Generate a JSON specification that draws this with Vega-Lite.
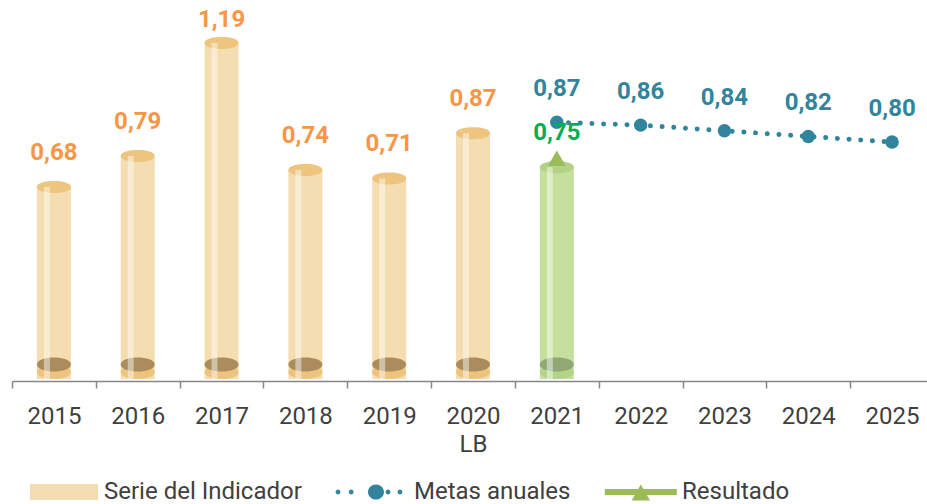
{
  "$schema": "https://vega.github.io/schema/vega-lite/v6.json",
  "autosize": {"type": "none"},
  "padding": {"left": 12, "top": 0, "right": 0, "bottom": 125},
  "width": 915,
  "height": 379,
  "config": {
    "view": {"stroke": null},
    "locale": {"number": {"decimal": ",", "thousands": ".", "grouping": [3], "currency": ["", " €"]}},
    "axis": {"grid": false}
  },
  "datasets": {
    "barras": [
      {"year": "2015", "value": 0.68, "serie": "Serie del Indicador"},
      {"year": "2016", "value": 0.79, "serie": "Serie del Indicador"},
      {"year": "2017", "value": 1.19, "serie": "Serie del Indicador"},
      {"year": "2018", "value": 0.74, "serie": "Serie del Indicador"},
      {"year": "2019", "value": 0.71, "serie": "Serie del Indicador"},
      {"year": "2020", "value": 0.87, "serie": "Serie del Indicador"},
      {"year": "2021", "value": 0.75, "serie": "Resultado"}
    ],
    "metas": [
      {"year": "2021", "value": 0.87, "serie": "Metas anuales"},
      {"year": "2022", "value": 0.86, "serie": "Metas anuales"},
      {"year": "2023", "value": 0.84, "serie": "Metas anuales"},
      {"year": "2024", "value": 0.82, "serie": "Metas anuales"},
      {"year": "2025", "value": 0.80, "serie": "Metas anuales"}
    ],
    "resultado": [
      {"year": "2021", "value": 0.75, "serie": "Resultado"}
    ]
  },
  "encoding": {
    "x": {
      "field": "year",
      "type": "nominal",
      "sort": null,
      "scale": {
        "domain": ["2015", "2016", "2017", "2018", "2019", "2020", "2021", "2022", "2023", "2024", "2025"],
        "paddingInner": 0,
        "paddingOuter": 0,
        "range": [0, 922]
      },
      "axis": {
        "title": null,
        "labelAngle": 0,
        "tickBand": "extent",
        "offset": 2,
        "domainColor": "#868686",
        "domainWidth": 1.5,
        "tickColor": "#868686",
        "tickWidth": 1.5,
        "tickSize": 7,
        "labelFont": "Roboto",
        "labelFontSize": 24,
        "labelColor": "#404040",
        "labelBaseline": "alphabetic",
        "labelPadding": 35,
        "labelLineHeight": 28,
        "labelOverlap": false,
        "labelFlush": false,
        "labelExpr": "datum.value == '2020' ? ['2020', 'LB'] : datum.label"
      }
    },
    "y": {
      "field": "value",
      "type": "quantitative",
      "scale": {"domain": [0, 1.342], "nice": false, "zero": true},
      "axis": null
    }
  },
  "layer": [
    {
      "data": {"name": "barras"},
      "mark": {"type": "bar", "width": 34, "y2Offset": -7},
      "encoding": {
        "color": {"condition": {"test": "datum.serie === 'Resultado'", "value": "#C5E09C"}, "value": "#F4DDB0"}
      }
    },
    {
      "data": {"name": "barras"},
      "mark": {"type": "point", "shape": "M-1,0C-1,-0.55,1,-0.55,1,0C1,0.55,-1,0.55,-1,0Z", "size": 1156, "filled": true, "opacity": 1, "strokeWidth": 0, "yOffset": -7},
      "encoding": {
        "y": {"datum": 0, "type": "quantitative"},
        "color": {"condition": {"test": "datum.serie === 'Resultado'", "value": "#B3D38A"}, "value": "#EDC47D"}
      }
    },
    {
      "data": {"name": "barras"},
      "mark": {"type": "point", "shape": "M-1,0C-1,-0.55,1,-0.55,1,0C1,0.55,-1,0.55,-1,0Z", "size": 1156, "filled": true, "opacity": 1, "strokeWidth": 0, "yOffset": -14.5},
      "encoding": {
        "y": {"datum": 0, "type": "quantitative"},
        "color": {"condition": {"test": "datum.serie === 'Resultado'", "value": "#90A874"}, "value": "#AA8C5D"}
      }
    },
    {
      "data": {"name": "barras"},
      "mark": {"type": "point", "shape": "M-1,0C-1,-0.47,1,-0.47,1,0C1,0.47,-1,0.47,-1,0Z", "size": 1156, "filled": true, "opacity": 1, "strokeWidth": 0},
      "encoding": {
        "color": {"condition": {"test": "datum.serie === 'Resultado'", "value": "#B2D287"}, "value": "#EDC57F"}
      }
    },
    {
      "data": {"name": "barras"},
      "mark": {"type": "bar", "width": 6, "xOffset": -7, "y2Offset": -4, "color": "#FFFFFF", "opacity": 0.45}
    },
    {
      "data": {"name": "metas"},
      "mark": {"type": "line", "color": "#31849B", "strokeWidth": 5, "strokeDash": [0.01, 11.7], "strokeCap": "round", "yOffset": -11}
    },
    {
      "data": {"name": "metas"},
      "mark": {"type": "point", "shape": "circle", "size": 180, "filled": true, "opacity": 1, "strokeWidth": 0, "yOffset": -11, "color": "#31849B"}
    },
    {
      "data": {"name": "metas"},
      "mark": {"type": "point", "filled": true, "opacity": 0, "strokeWidth": 0},
      "encoding": {
        "color": {
          "field": "serie",
          "type": "nominal",
          "scale": {"domain": ["Serie del Indicador", "Metas anuales", "Resultado"], "range": ["#F4DDB0", "#31849B", "#9BBB59"]},
          "legend": {
            "title": null,
            "orient": "none",
            "legendX": 20,
            "legendY": 480,
            "direction": "horizontal",
            "padding": 0,
            "symbolSize": 256,
            "symbolOpacity": 1,
            "symbolOffset": 22,
            "symbolStrokeWidth": 0,
            "labelOffset": 26,
            "labelFont": "Roboto",
            "labelFontSize": 24,
            "labelColor": "#404040",
            "labelLimit": 400,
            "columnPadding": 33
          }
        },
        "shape": {
          "field": "serie",
          "type": "nominal",
          "scale": {
            "domain": ["Serie del Indicador", "Metas anuales", "Resultado"],
            "range": [
              "M-4.5,-1H4,V1H-4.5Z",
              "M-1,0A1,0.95,0,1,1,1,0A1,0.95,0,1,1,-1,0ZM-5.05,0A0.3,0.3,0,1,1,-4.45,0A0.3,0.3,0,1,1,-5.05,0ZM-3.4,0A0.3,0.3,0,1,1,-2.8,0A0.3,0.3,0,1,1,-3.4,0ZM1.2,0A0.3,0.3,0,1,1,1.8,0A0.3,0.3,0,1,1,1.2,0ZM2.7,0A0.3,0.3,0,1,1,3.3,0A0.3,0.3,0,1,1,2.7,0Z",
              "M-4.9,-0.37H4.1V0.37H-4.9ZM-1.55,1.05L-0.4,-0.95L0.75,1.05Z"
            ]
          },
          "legend": {
            "title": null,
            "orient": "none",
            "legendX": 20,
            "legendY": 480,
            "direction": "horizontal",
            "padding": 0,
            "symbolSize": 256,
            "symbolOpacity": 1,
            "symbolOffset": 22,
            "symbolStrokeWidth": 0,
            "labelOffset": 26,
            "labelFont": "Roboto",
            "labelFontSize": 24,
            "labelColor": "#404040",
            "labelLimit": 400,
            "columnPadding": 33
          }
        }
      }
    },
    {
      "data": {"name": "resultado"},
      "mark": {"type": "point", "shape": "triangle-up", "size": 324, "filled": true, "opacity": 1, "strokeWidth": 0, "color": "#9BBB59", "yOffset": -9}
    },
    {
      "data": {"name": "barras"},
      "mark": {"type": "text", "font": "Roboto", "fontSize": 24, "fontWeight": "bold", "baseline": "alphabetic", "align": "center", "dy": {"expr": "datum.value > 1 ? -16 : -27"}},
      "encoding": {
        "text": {"field": "value", "type": "quantitative", "format": ".2f"},
        "color": {"condition": {"test": "datum.serie === 'Resultado'", "value": "#00B050"}, "value": "#F79646"}
      }
    },
    {
      "data": {"name": "metas"},
      "mark": {"type": "text", "font": "Roboto", "fontSize": 24, "fontWeight": "bold", "baseline": "alphabetic", "align": "center", "dy": -37, "color": "#31849B"},
      "encoding": {
        "text": {"field": "value", "type": "quantitative", "format": ".2f"}
      }
    }
  ]
}
